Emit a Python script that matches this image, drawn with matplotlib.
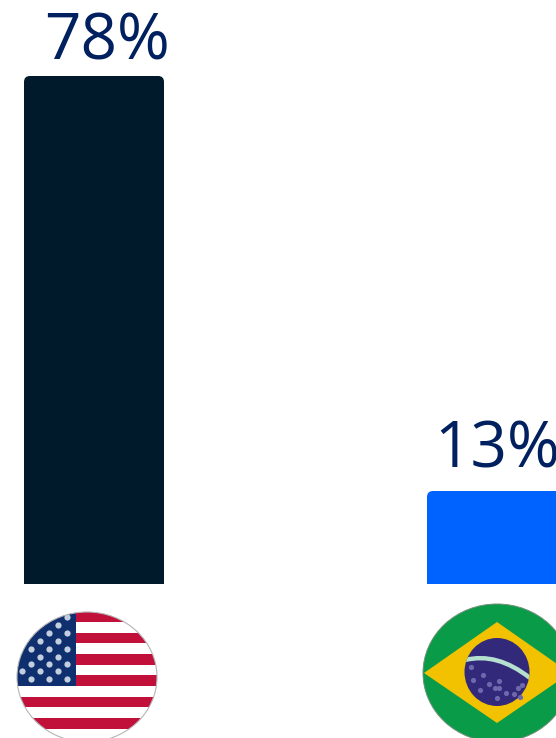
import matplotlib
matplotlib.use("Agg")
import matplotlib.pyplot as plt
from matplotlib.patches import Ellipse, FancyBboxPatch, PathPatch, Polygon, Rectangle
from matplotlib.path import Path
from matplotlib.transforms import IdentityTransform

plt.rcParams["font.family"] = ["Open Sans", "DejaVu Sans"]

countries = ["United States", "Brazil"]
shares = [78, 13]
labels = ["78%", "13%"]
bar_colors = ["#001a2c", "#0062ff"]
baseline = -1.57

# flag details, in pixels
us_star_x = [67, 58, 49, 67, 40, 58, 31, 49, 67, 40, 58, 31, 49, 67, 22, 40, 58, 31, 49, 67]
us_star_y = [617, 625, 633, 633, 641, 641, 649, 649, 649, 657, 657, 664, 664, 664, 671, 671, 671, 679, 679, 679]
br_star_x = [471, 483, 489, 499, 480, 495, 499, 518, 520, 514, 506, 497, 473, 522]
br_star_y = [667, 675, 684, 681, 690, 688, 688, 688, 697, 694, 693, 698, 680, 685]

W, H = 556, 738
fig = plt.figure(figsize=(W / 100, H / 100), dpi=100, facecolor="white")

# bars: both share one linear scale, axes fill the whole figure
ax = fig.add_axes([0, 0, 1, 1])
ax.set_xlim(-94 / 403, (W - 94) / 403)
ax.set_ylim(13 + (491 - H) / 6.385, 13 + 491 / 6.385)
ax.axis("off")
bars = ax.bar(range(len(shares)), [v - baseline for v in shares], bottom=baseline,
              width=140 / 403, color=bar_colors, linewidth=0)

# round the top corners only
fig.canvas.draw()
for bar in bars:
    box = bar.get_window_extent()
    clip = FancyBboxPatch((box.x0, box.y0 - 20), box.width, box.height + 20,
                          boxstyle="round,pad=0,rounding_size=6",
                          transform=IdentityTransform())
    bar.set_clip_path(clip)

# pixel overlay for labels and flags
px = fig.add_axes([0, 0, 1, 1], facecolor="none")
px.set_xlim(0, W)
px.set_ylim(H, 0)
px.axis("off")

px.text(44.5, 59, labels[0], fontsize=46, color="#00205f", ha="left", va="baseline")
px.text(434, 468, labels[1], fontsize=46, color="#00205f", ha="left", va="baseline",
        clip_on=False)

# US flag
us_clip = Ellipse((87, 677), 140, 130, transform=px.transData)
us_parts = [Rectangle((17, 611), 140, 130, color="white", lw=0)]
for i in range(7):
    us_parts.append(Rectangle((17, 611.3 + i * 21.35), 140, 10.7, color="#c1113a", lw=0))
us_parts.append(Rectangle((17, 611), 59, 75, color="#0f2f6f", lw=0))
for part in us_parts:
    px.add_patch(part)
    part.set_clip_path(us_clip)
stars = px.scatter(us_star_x, us_star_y, s=20, marker="o", color="#c3cede", linewidths=0)
stars.set_clip_path(us_clip)
px.add_patch(Ellipse((87, 677), 140, 130, fill=False, ec="#b5b5b5", lw=0.8))

# Brazil flag
br_green = Ellipse((497, 673), 148, 138, color="#0a9b49", lw=0)
px.add_patch(br_green)
diamond = Polygon([(424, 673), (497, 622), (570, 673), (497, 723)], color="#f2c100", lw=0)
px.add_patch(diamond)
px.add_patch(Ellipse((497, 672), 65, 68, color="#33297a", lw=0))
band_path = Path([(465, 660), (497, 652), (530, 678)], [Path.MOVETO, Path.CURVE3, Path.CURVE3])
band = PathPatch(band_path, fill=False, ec="#b5e0d0", lw=3.2)
px.add_patch(band)
band.set_clip_path(Ellipse((497, 672), 65, 68, transform=px.transData))
px.scatter(br_star_x, br_star_y, s=14, marker="o", color="#6f68ad", linewidths=0)
px.add_patch(Ellipse((497, 673), 148, 138, fill=False, ec="#6f8f78", lw=0.7))

fig.savefig("out.png", dpi=100)
